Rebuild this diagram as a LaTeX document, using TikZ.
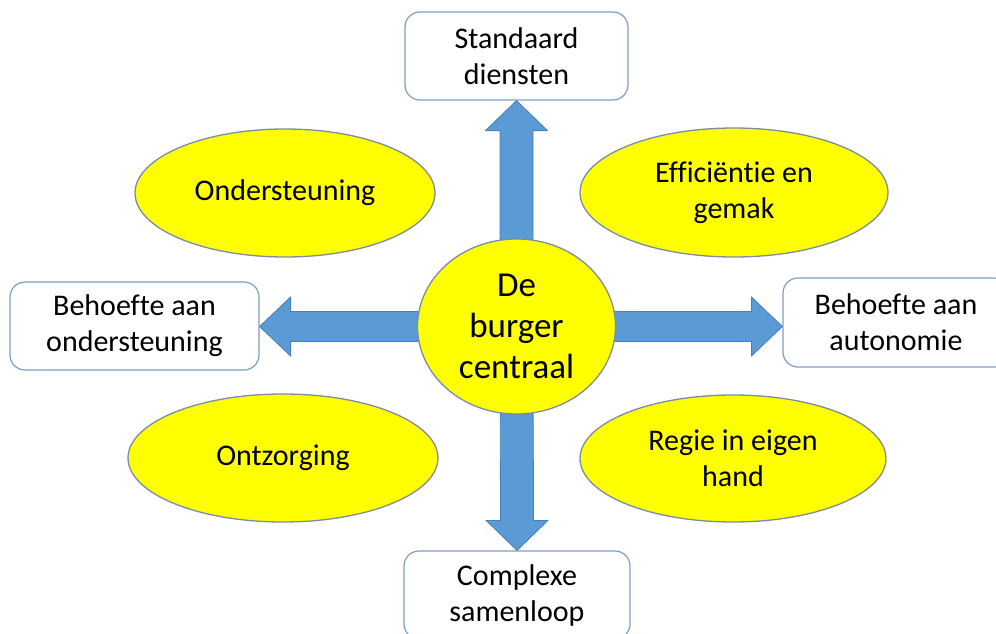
\documentclass[tikz,border=0pt]{standalone}
\usepackage{fontspec}
\setmainfont{Carlito}[Ligatures=NoCommon]
\usetikzlibrary{shapes.geometric,calc}
\definecolor{arrowfill}{HTML}{5B9BD5}
\definecolor{arrowline}{HTML}{4A7EBB}
\definecolor{boxline}{HTML}{7F9DC4}
\definecolor{ellline}{HTML}{7C8CA3}
\definecolor{ellfill}{HTML}{FFFF00}
\tikzset{
  txt/.style={font=\fontsize{30}{36}\selectfont, align=center, text=black},
  boxnode/.style={txt, draw=boxline, line width=1.2pt, fill=white, rounded corners=15pt, inner sep=0pt},
  ellnode/.style={txt, ellipse, draw=ellline, line width=1.3pt, fill=ellfill, inner sep=0pt},
  blockarrow/.style={fill=arrowfill, draw=arrowline, line width=0.8pt, line join=miter}
}
\begin{document}
\begin{tikzpicture}[x=1pt,y=-1pt]
\useasboundingbox (0,0) rectangle (996,634);

% boxes
\node[boxnode, minimum width=223pt, minimum height=88pt] (top) at (516.5,56) {Standaard\\diensten};
\node[boxnode, minimum width=226pt, minimum height=88pt] (bot) at (517,595) {Complexe\\samenloop};
\node[boxnode, minimum width=249pt, minimum height=88pt] (lbox) at (134.5,326) {Behoefte aan\\ondersteuning};
\node[boxnode, minimum width=226pt, minimum height=89pt] (rbox) at (896,322.5) {Behoefte aan\\autonomie};

% centre coordinate
\coordinate (cc) at (516.5,326.5);

% block arrows
\draw[blockarrow] (top.south) -- ($(top.south)+(31,30)$) -- ($(top.south)+(16.5,30)$)
  -- ($(cc)+(16.5,0)$) -- ($(cc)+(-16.5,0)$) -- ($(top.south)+(-16.5,30)$)
  -- ($(top.south)+(-31,30)$) -- cycle;
\draw[blockarrow] (bot.north) -- ($(bot.north)+(31,-30)$) -- ($(bot.north)+(16.5,-30)$)
  -- ($(cc)+(16.5,0)$) -- ($(cc)+(-16.5,0)$) -- ($(bot.north)+(-16.5,-30)$)
  -- ($(bot.north)+(-31,-30)$) -- cycle;
\coordinate (ltip) at (lbox.east |- cc);
\coordinate (rtip) at (rbox.west |- cc);
\draw[blockarrow] (ltip) -- ($(ltip)+(31,-29.5)$) -- ($(ltip)+(31,-15)$)
  -- ($(cc)+(0,-15)$) -- ($(cc)+(0,15)$) -- ($(ltip)+(31,15)$)
  -- ($(ltip)+(31,29.5)$) -- cycle;
\draw[blockarrow] (rtip) -- ($(rtip)+(-31,-29.5)$) -- ($(rtip)+(-31,-15)$)
  -- ($(cc)+(0,-15)$) -- ($(cc)+(0,15)$) -- ($(rtip)+(-31,15)$)
  -- ($(rtip)+(-31,29.5)$) -- cycle;

% centre circle
\node[ellnode, minimum width=198pt, minimum height=175pt, font=\fontsize{35}{41}\selectfont] (c) at (cc) {De\\burger\\centraal};

% ellipses
\node[ellnode, minimum width=300pt, minimum height=128pt] (e1) at (285,193) {Ondersteuning};
\node[ellnode, minimum width=308pt, minimum height=129pt] (e2) at (734,192.5) {Efficiëntie en\\gemak};
\node[ellnode, minimum width=310pt, minimum height=128pt] (e3) at (283,458) {Ontzorging};
\node[ellnode, minimum width=306pt, minimum height=127pt] (e4) at (733,458.5) {Regie in eigen\\hand};
\end{tikzpicture}
\end{document}
